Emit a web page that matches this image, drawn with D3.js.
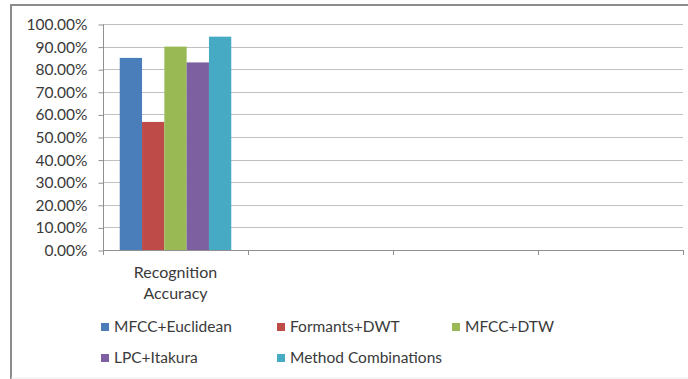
<!DOCTYPE html>
<html>
<head>
<meta charset="utf-8">
<script src="https://cdn.jsdelivr.net/npm/d3@7"></script>
<style>
  html, body { margin: 0; padding: 0; background: #fff; }
  svg { display: block; }
  text { font-family: Lato, "Open Sans", sans-serif; fill: #3a3a3a; }
</style>
</head>
<body>
<svg id="chart" width="688" height="379"></svg>
<script>
// Category slots along the x axis (only the first one carries data)
const categories = ["Recognition Accuracy", "c2", "c3", "c4"];
const categoryLabels = [["Recognition", "Accuracy"], [], [], []];

// Methods compared
const seriesNames = ["MFCC+Euclidean", "Formants+DWT", "MFCC+DTW", "LPC+Itakura", "Method Combinations"];
const seriesColors = ["#4a7ebb", "#be4b48", "#98b954", "#7d60a0", "#46aac5"];

// Recognition accuracy for each method
const accuracy = [0.85, 0.5667, 0.90, 0.83, 0.944];

// Y tick values
const yTicks = [0, 0.1, 0.2, 0.3, 0.4, 0.5, 0.6, 0.7, 0.8, 0.9, 1.0];

const svg = d3.select("#chart");

// Outer frame
svg.append("path")
  .attr("d", "M11,380 L11,5 L690,5")
  .attr("fill", "none").attr("stroke", "#8c8c8c").attr("stroke-width", 2);
svg.append("line")
  .attr("x1", 11).attr("x2", 690).attr("y1", 378).attr("y2", 378)
  .attr("stroke", "#ececec").attr("stroke-width", 1);

const plot = { left: 103, right: 683, top: 24, bottom: 250 };

const x = d3.scaleBand()
  .domain(categories)
  .range([plot.left, plot.right])
  .paddingInner(0).paddingOuter(0);

const y = d3.scaleLinear()
  .domain([0, 1])
  .range([plot.bottom, plot.top]);

// Gridlines
svg.append("g")
  .selectAll("line")
  .data(yTicks.filter(d => d > 0))
  .join("line")
  .attr("x1", plot.left).attr("x2", plot.right)
  .attr("y1", d => Math.round(y(d)) + 0.5).attr("y2", d => Math.round(y(d)) + 0.5)
  .attr("stroke", "#c0c0c0").attr("stroke-width", 1.2);

// Y axis
const yAxis = d3.axisLeft(y)
  .tickValues(yTicks)
  .tickFormat(d => (d * 100).toFixed(2) + "%")
  .tickSize(5)
  .tickPadding(11);
const yg = svg.append("g")
  .attr("transform", `translate(${plot.left + 0.5},0.5)`)
  .call(yAxis);
yg.select(".domain").attr("stroke", "#909090").attr("d", `M0,${plot.top}V${plot.bottom}`);
yg.selectAll(".tick line").attr("stroke", "#909090");
yg.selectAll(".tick text")
  .style("font-size", "15.5px").attr("fill", "#3a3a3a");

// X axis baseline and category separators
const xg = svg.append("g");
xg.append("line")
  .attr("x1", plot.left).attr("x2", plot.right)
  .attr("y1", plot.bottom + 0.5).attr("y2", plot.bottom + 0.5)
  .attr("stroke", "#909090");
const bounds = categories.map(c => x(c)).concat([x(categories[categories.length - 1]) + x.bandwidth()]);
xg.selectAll("line.sep")
  .data(bounds)
  .join("line")
  .attr("class", "sep")
  .attr("x1", d => Math.round(d) + 0.5).attr("x2", d => Math.round(d) + 0.5)
  .attr("y1", plot.bottom).attr("y2", plot.bottom + 5)
  .attr("stroke", "#909090");

// Category labels
categoryLabels.forEach((lines, i) => {
  const cx = x(categories[i]) + x.bandwidth() / 2;
  lines.forEach((ln, j) => {
    svg.append("text")
      .attr("x", cx).attr("y", 278 + j * 21)
      .attr("text-anchor", "middle")
      .style("font-size", "16px")
      .text(ln);
  });
});

// Bars: gap width 150% of a bar
const xs = d3.scaleBand()
  .domain(seriesNames)
  .range([0, x.bandwidth()])
  .paddingOuter(0.75)
  .paddingInner(0);

svg.append("g")
  .selectAll("rect")
  .data(seriesNames.map((s, i) => ({ s, v: accuracy[i], c: seriesColors[i] })))
  .join("rect")
  .attr("x", d => x(categories[0]) + xs(d.s))
  .attr("width", xs.bandwidth())
  .attr("y", d => y(d.v))
  .attr("height", d => y(0) - y(d.v))
  .attr("fill", d => d.c);

// Legend
const legendPos = [
  [101, 327], [277, 327], [452, 327],
  [101, 358], [277, 358]
];
const lg = svg.append("g");
seriesNames.forEach((s, i) => {
  const [lx, ly] = legendPos[i];
  lg.append("rect")
    .attr("x", lx).attr("y", ly - 4)
    .attr("width", 8).attr("height", 8)
    .attr("fill", seriesColors[i]);
  lg.append("text")
    .attr("x", lx + 13).attr("y", ly)
    .attr("dy", "0.35em")
    .style("font-size", "15.5px")
    .text(s);
});
</script>
</body>
</html>
